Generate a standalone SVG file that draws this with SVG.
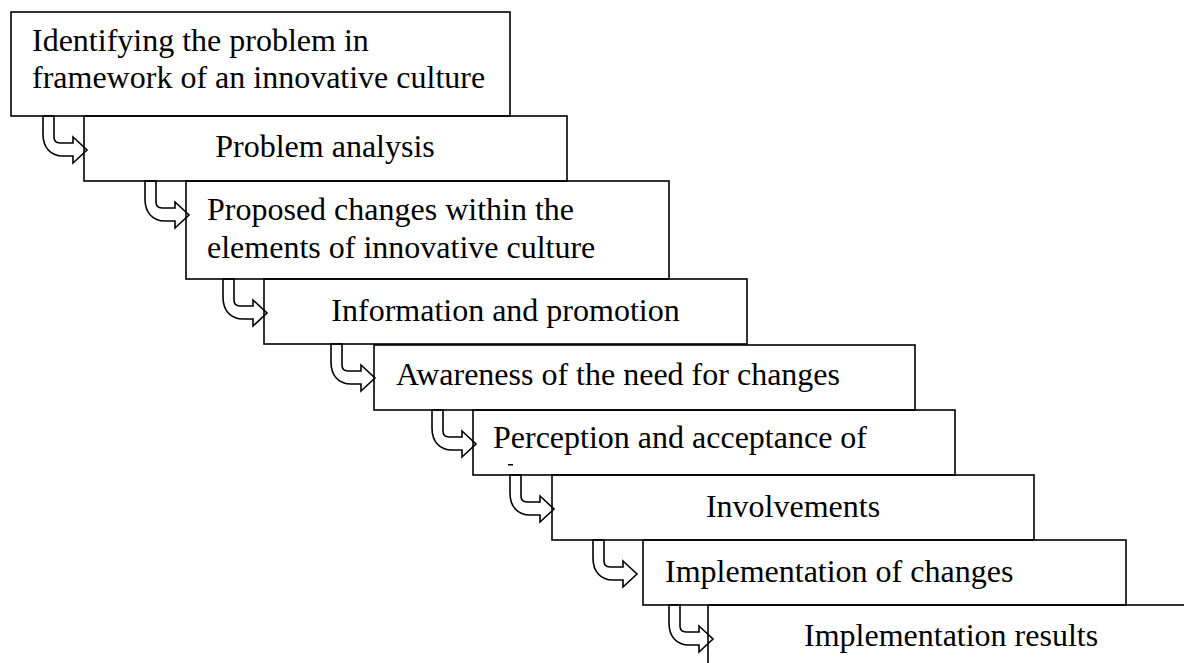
<svg xmlns="http://www.w3.org/2000/svg" width="1184" height="663" viewBox="0 0 1184 663">
<style>
.box{fill:none;stroke:#000;stroke-width:1.6}
.arr{fill:#fff;stroke:#000;stroke-width:1.6;stroke-linejoin:miter}
.t{font-family:"Liberation Serif","Times New Roman",serif;font-size:32px;fill:#000}
.c{text-anchor:middle}
</style>
<defs>
<path id="uarrow" d="M0,0 L11,0 L11,21 Q11,27 17,27 L30,27 L30,21 L44,34 L30,47 L30,40 L20,40 C8,40 0,32 0,18 Z"/>
</defs>
<rect width="1184" height="663" fill="#fff"/>
<g id="connectors">
<use href="#uarrow" class="arr" transform="translate(43,116)"/>
<use href="#uarrow" class="arr" transform="translate(145,181)"/>
<use href="#uarrow" class="arr" transform="translate(223,279)"/>
<use href="#uarrow" class="arr" transform="translate(331,344)"/>
<use href="#uarrow" class="arr" transform="translate(432,410)"/>
<use href="#uarrow" class="arr" transform="translate(510,475)"/>
<use href="#uarrow" class="arr" transform="translate(593,540)"/>
<use href="#uarrow" class="arr" transform="translate(669,605)"/>
</g>
<g id="n1"><rect class="box" x="11" y="12" width="499" height="104"/>
<text class="t" x="32" y="51">Identifying the problem in</text>
<text class="t" x="32" y="88">framework of an innovative culture</text></g>
<g id="n2"><rect class="box" x="84" y="116" width="483" height="65"/>
<text class="t c" x="325" y="157">Problem analysis</text></g>
<g id="n3"><rect class="box" x="186" y="181" width="483" height="98"/>
<text class="t" x="207" y="220">Proposed changes within the</text>
<text class="t" x="207" y="258">elements of innovative culture</text></g>
<g id="n4"><rect class="box" x="264" y="279" width="483" height="65"/>
<text class="t c" x="505.5" y="321">Information and promotion</text></g>
<g id="n5"><rect class="box" x="374" y="345" width="541" height="65"/>
<text class="t" x="396" y="385">Awareness of the need for changes</text></g>
<g id="n6"><rect class="box" x="473" y="410" width="482" height="65"/>
<text class="t" x="493" y="448">Perception and acceptance of</text>
<rect x="508" y="464" width="5" height="1.5" fill="#000"/></g>
<g id="n7"><rect class="box" x="552" y="475" width="482" height="65"/>
<text class="t c" x="793" y="517">Involvements</text></g>
<g id="n8"><rect class="box" x="643" y="540" width="483" height="65"/>
<text class="t" x="665" y="582">Implementation of changes</text></g>
<g id="n9"><rect class="box" x="708" y="605" width="600" height="100"/>
<text class="t" x="804" y="646">Implementation results</text></g>
</svg>
